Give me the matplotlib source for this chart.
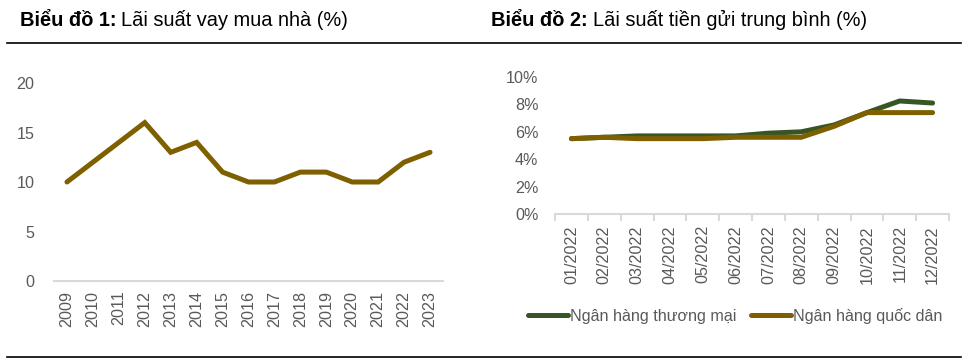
import matplotlib
matplotlib.use("Agg")
import matplotlib.pyplot as plt
from matplotlib.lines import Line2D
from matplotlib.ticker import FixedLocator, PercentFormatter

plt.rcParams['font.family'] = ['Liberation Sans', 'DejaVu Sans']

# chart 1 data
years = ['2009', '2010', '2011', '2012', '2013', '2014', '2015', '2016',
         '2017', '2018', '2019', '2020', '2021', '2022', '2023']
mortgage = [10, 12, 14, 16, 13, 14, 11, 10, 10, 11, 11, 10, 10, 12, 13]

# chart 2 data
months = ['01/2022', '02/2022', '03/2022', '04/2022', '05/2022', '06/2022',
          '07/2022', '08/2022', '09/2022', '10/2022', '11/2022', '12/2022']
commercial = [5.5, 5.6, 5.7, 5.7, 5.7, 5.7, 5.9, 6.0, 6.5, 7.4, 8.25, 8.1]
national = [5.5, 5.6, 5.5, 5.5, 5.5, 5.6, 5.6, 5.6, 6.4, 7.4, 7.4, 7.4]

W, H = 965, 363
fig = plt.figure(figsize=(W / 100, H / 100), dpi=100)

BROWN = '#7F6000'
GREEN = '#375623'
GRAY = '#595959'
AXGRAY = '#D9D9D9'
FS = 11.6


def px_axes(x0, y0, x1, y1):
    # pixel box (top-left origin) -> axes
    return fig.add_axes([x0 / W, 1 - y1 / H, (x1 - x0) / W, (y1 - y0) / H])


def style(ax):
    for s in ['top', 'right', 'left']:
        ax.spines[s].set_visible(False)
    ax.spines['bottom'].set_color(AXGRAY)
    ax.spines['bottom'].set_linewidth(1.5)
    ax.tick_params(axis='y', length=0, labelsize=FS, labelcolor=GRAY, pad=14)
    ax.tick_params(axis='x', labelsize=FS, labelcolor=GRAY, rotation=90)


# chart 1
ax1 = px_axes(54, 83, 443, 281)
x1 = list(range(len(years)))
ax1.plot(x1, mortgage, color=BROWN, lw=3.6, solid_capstyle='round',
         solid_joinstyle='miter')
ax1.set_xlim(-0.5, len(years) - 0.5)
ax1.set_ylim(0, 20)
ax1.set_yticks([0, 5, 10, 15, 20])
ax1.set_xticks(x1)
ax1.set_xticklabels(years)
style(ax1)
ax1.tick_params(axis='x', length=0, pad=7)

# chart 2
ax2 = px_axes(555, 77, 949, 214)
x2 = list(range(len(months)))
ax2.plot(x2, commercial, color=GREEN, lw=3.6, solid_capstyle='round',
         label='Ngân hàng thương mại')
ax2.plot(x2, national, color=BROWN, lw=3.6, solid_capstyle='round',
         label='Ngân hàng quốc dân')
ax2.set_xlim(-0.5, len(months) - 0.5)
ax2.set_ylim(0, 10)
ax2.set_yticks([0, 2, 4, 6, 8, 10])
ax2.yaxis.set_major_formatter(PercentFormatter(decimals=0))
ax2.set_xticks(x2)
ax2.set_xticklabels(months)
ax2.xaxis.set_minor_locator(FixedLocator([i - 0.5 for i in range(len(months) + 1)]))
style(ax2)
ax2.tick_params(axis='y', pad=12)
ax2.tick_params(axis='x', which='major', length=0, pad=8)
ax2.tick_params(axis='x', which='minor', length=5, width=1.5, color=AXGRAY)

leg = fig.legend(loc='center', bbox_to_anchor=(735 / W, 1 - 316 / H), ncol=2,
                 frameon=False, fontsize=FS, handlelength=2.5,
                 handletextpad=0.1, columnspacing=0.9, labelcolor=GRAY)

# titles
fig.canvas.draw()
renderer = fig.canvas.get_renderer()
for x0, num, rest in [(20, '1', 'Lãi suất vay mua nhà (%)'),
                      (491, '2', 'Lãi suất tiền gửi trung bình (%)')]:
    t = fig.text(x0 / W, 1 - 26 / H, 'Biểu đồ ' + num + ':', fontsize=14.4,
                 fontweight='bold', color='black', va='baseline')
    bb = t.get_window_extent(renderer)
    fig.text((bb.x1 + 5) / W, 1 - 26 / H, rest, fontsize=14.4, color='black',
             va='baseline')

# separator lines
for yy in [43, 357]:
    fig.add_artist(Line2D([7 / W, 961 / W], [1 - yy / H, 1 - yy / H],
                          color='black', lw=1.2, transform=fig.transFigure))

fig.savefig('out.png', dpi=100)
